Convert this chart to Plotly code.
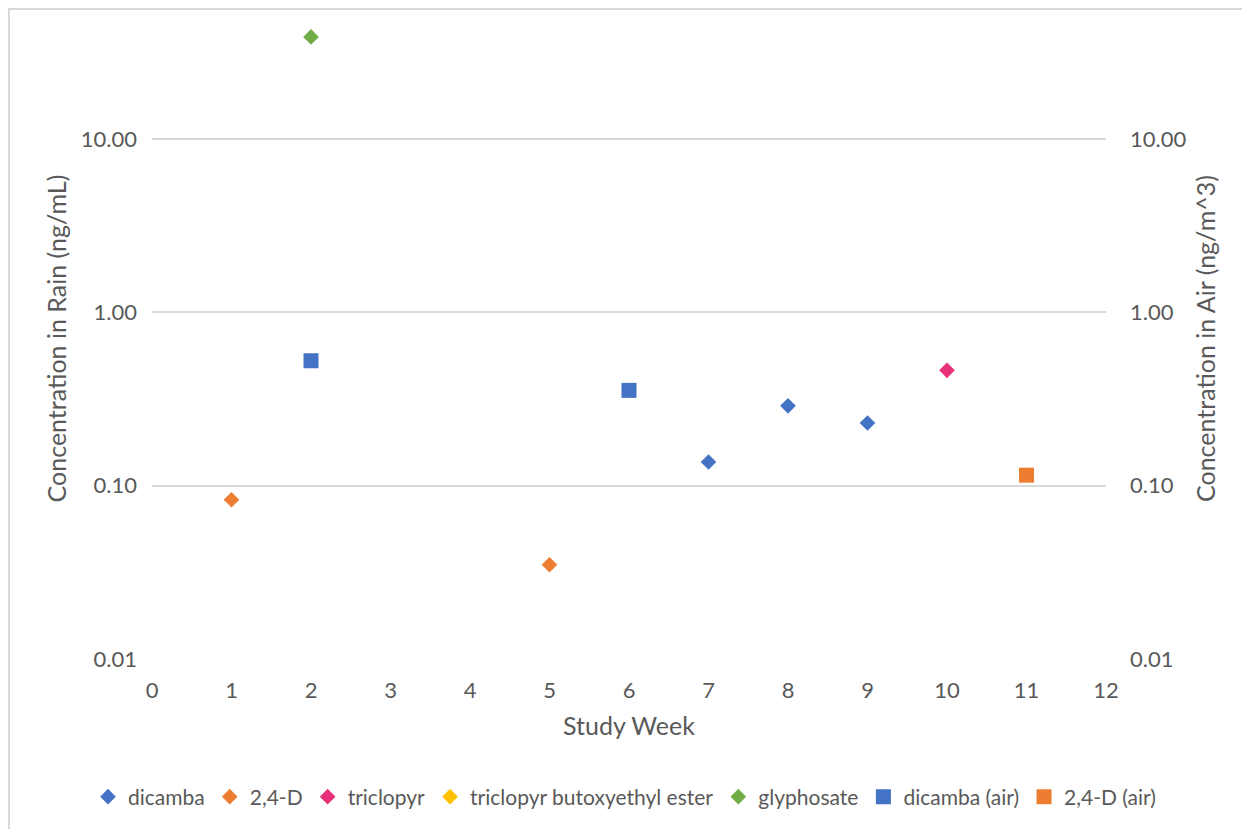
import plotly.graph_objects as go
import math

# Data
weeks_dicamba = [7, 8, 9]
dicamba = [0.137, 0.289, 0.230]
weeks_24d = [1, 5]
d24 = [0.083, 0.035]
weeks_triclopyr = [10]
triclopyr = [0.463]
weeks_tbee = [None]
tbee = [None]
weeks_glyphosate = [2]
glyphosate = [38.9]
weeks_dicamba_air = [2, 6]
dicamba_air = [0.526, 0.355]
weeks_24d_air = [11]
d24_air = [0.115]

ytickvals = [0.01, 0.1, 1, 10]
xtickvals = list(range(0, 13))

FONT = "Lato"
GREY = "#595959"
GRID = "#D9D9D9"
TICK = 22
TITLE = 25
LEG = 21

fig = go.Figure()

def diamond(name, x, y, color):
    fig.add_trace(go.Scatter(x=x, y=y, mode="markers", name=name,
                             marker=dict(symbol="diamond", size=12, color=color,
                                         line=dict(width=0)),
                             yaxis="y"))

def square(name, x, y, color):
    fig.add_trace(go.Scatter(x=x, y=y, mode="markers", name=name,
                             marker=dict(symbol="square", size=15, color=color,
                                         line=dict(width=0)),
                             yaxis="y2"))

diamond("dicamba", weeks_dicamba, dicamba, "#4472C4")
diamond("2,4-D", weeks_24d, d24, "#ED7D31")
diamond("triclopyr", weeks_triclopyr, triclopyr, "#E8317B")
diamond("triclopyr butoxyethyl ester", weeks_tbee, tbee, "#FFC000")
diamond("glyphosate", weeks_glyphosate, glyphosate, "#70AD47")
square("dicamba (air)", weeks_dicamba_air, dicamba_air, "#4472C4")
square("2,4-D (air)", weeks_24d_air, d24_air, "#ED7D31")

yr = [-2, math.log10(50)]

L, R, T, B = 144, 152, 10, 178
PW, PH = 1250 - L - R, 829 - T - B

fig.update_layout(
    width=1250, height=829,
    margin=dict(l=L, r=R, t=T, b=B),
    paper_bgcolor="white", plot_bgcolor="white",
    font=dict(family=FONT, color=GREY, size=TICK),
    showlegend=True,
    legend=dict(orientation="h", x=(88 - 152) / 954, xanchor="left", y=-0.2153, yanchor="middle",
                font=dict(size=LEG, color=GREY), itemwidth=30, tracegroupgap=0),
    xaxis=dict(range=[0, 12], tickvals=xtickvals, showgrid=False, zeroline=False,
               showline=False, ticks="", ticklabelstandoff=16,
               tickfont=dict(size=TICK, color=GREY),
               title=dict(text="Study Week", font=dict(size=TITLE, color=GREY), standoff=15)),
    yaxis=dict(type="log", range=yr, tickvals=ytickvals, tickformat=".2f",
               showgrid=True, gridcolor=GRID, gridwidth=2, zeroline=False,
               showline=False, ticks="", ticklabelstandoff=14,
               tickfont=dict(size=TICK, color=GREY),
               title=dict(text="Concentration in Rain (ng/mL)", font=dict(size=TITLE, color=GREY), standoff=7)),
    yaxis2=dict(type="log", range=yr, tickvals=ytickvals, tickformat=".2f",
                overlaying="y", side="right", showgrid=False, zeroline=False,
                showline=False, ticks="", ticklabelstandoff=23,
                tickfont=dict(size=TICK, color=GREY),
                title=dict(text="Concentration in Air (ng/m^3)", font=dict(size=TITLE, color=GREY), standoff=12)),
)

# outer chart border (only left and top edges fall inside the picture)
fx0, fy0, fx1, fy1 = 1, 1, 1270, 850   # figure pixel coords
fig.add_shape(type="rect", xref="paper", yref="paper",
              x0=(fx0 - L) / PW, x1=(fx1 - L) / PW,
              y0=1 - (fy1 - T) / PH, y1=1 - (fy0 - T) / PH,
              line=dict(color="#D9D9D9", width=2), fillcolor="rgba(0,0,0,0)", layer="below")

fig.write_html("out.html")
